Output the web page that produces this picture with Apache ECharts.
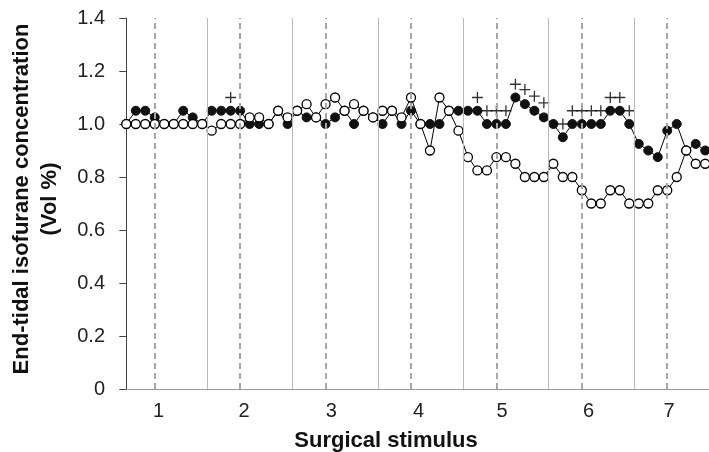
<!DOCTYPE html>
<html><head><meta charset="utf-8">
<script src="https://cdn.jsdelivr.net/npm/echarts@6/dist/echarts.min.js"></script>
<style>html,body{margin:0;padding:0;background:#fff}#c{width:709px;height:452px}</style>
</head><body><div id="c"></div>
<script>
// open circles series (one value per sample)
const openValues = [
  1.0, 1.0, 1.0, 1.0, 1.0, 1.0, 1.0, 1.0, 1.0, 0.975,
  1.0, 1.0, 1.0, 1.025, 1.025, 1.0, 1.05, 1.025, 1.05, 1.075,
  1.025, 1.075, 1.1, 1.05, 1.075, 1.05, 1.025, 1.05, 1.05, 1.025,
  1.1, 1.0, 0.9, 1.1, 1.05, 0.975, 0.875, 0.825, 0.825, 0.875,
  0.875, 0.85, 0.8, 0.8, 0.8, 0.85, 0.8, 0.8, 0.75, 0.7,
  0.7, 0.75, 0.75, 0.7, 0.7, 0.7, 0.75, 0.75, 0.8, 0.9,
  0.85, 0.85
];
// filled circles series
const filledValues = [
  1.0, 1.05, 1.05, 1.025, 1.0, 1.0, 1.05, 1.025, 1.0, 1.05,
  1.05, 1.05, 1.05, 1.0, 1.0, 1.0, 1.05, 1.0, 1.05, 1.025,
  1.025, 1.0, 1.025, 1.05, 1.0, 1.05, 1.025, 1.0, 1.05, 1.0,
  1.05, 1.0, 1.0, 1.0, 1.05, 1.05, 1.05, 1.05, 1.0, 1.0,
  1.0, 1.1, 1.075, 1.05, 1.025, 1.0, 0.95, 1.0, 1.0, 1.0,
  1.0, 1.05, 1.05, 1.0, 0.925, 0.9, 0.875, 0.975, 1.0, 0.9,
  0.925, 0.9
];
// "+" significance markers: [sample index, height]
const plusIdx = [11, 37, 38, 39, 40, 41, 42, 43, 44, 46, 47, 48, 49, 50, 51, 52, 53];
const plusVal = [1.1, 1.1, 1.05, 1.05, 1.05, 1.15, 1.13, 1.105, 1.08, 1.0, 1.05, 1.05, 1.05, 1.05, 1.1, 1.1, 1.05];
// separators between stimulus periods and stimulus onset lines (sample index)
const solidLines = [8.5, 17.5, 26.5, 35.5, 44.5, 53.5];
const dashedLines = [3, 12, 21, 30, 39, 48, 57];
// stimulus labels and their positions on the sample axis
const stimulusLabels = ['1', '2', '3', '4', '5', '6', '7'];
const stimulusPos = [3.4, 12.4, 21.6, 30.8, 39.6, 48.7, 57.2];

const FONT = "'Liberation Sans', Arial, Helvetica, sans-serif";
const chart = echarts.init(document.getElementById('c'), null, {renderer: 'canvas'});
const plusPath = 'path://M4.4,0h1.2v4.4h4.4v1.2h-4.4v4.4h-1.2v-4.4h-4.4v-1.2h4.4z';

const option = {
  animation: false,
  backgroundColor: '#fff',
  grid: {left: 122, right: 0, top: 18, bottom: 63},
  xAxis: {
    type: 'value', min: -0.45, max: 61.4,
    axisLine: {show: true, lineStyle: {color: '#999', width: 1}},
    axisTick: {show: false},
    splitLine: {show: false},
    axisLabel: {
      customValues: stimulusPos,
      formatter: function (v) {
        let best = 0, bd = 1e9;
        stimulusPos.forEach((p, k) => { const d = Math.abs(p - v); if (d < bd) { bd = d; best = k; } });
        return stimulusLabels[best];
      },
      fontSize: 20, color: '#222', margin: 12, fontFamily: FONT
    }
  },
  yAxis: {
    type: 'value', min: 0, max: 1.4, interval: 0.2,
    axisLine: {show: true, lineStyle: {color: '#444', width: 1}},
    axisTick: {show: true, length: 7, lineStyle: {color: '#444', width: 1}},
    splitLine: {show: false},
    axisLabel: {
      formatter: v => (v === 0 ? '0' : v.toFixed(1)),
      fontSize: 20, color: '#222', margin: 17, fontFamily: FONT
    }
  },
  graphic: [
    {type: 'text', x: 36, y: 199, rotation: Math.PI / 2, silent: true,
     style: {text: 'End-tidal isofurane concentration\n(Vol %)', font: 'bold 22px ' + FONT,
             fill: '#111', textAlign: 'center', textVerticalAlign: 'middle', align: 'center', verticalAlign: 'middle', lineHeight: 28}},
    {type: 'text', x: 386, y: 441, silent: true,
     style: {text: 'Surgical stimulus', font: 'bold 22px ' + FONT,
             fill: '#111', textAlign: 'center', textVerticalAlign: 'middle', align: 'center', verticalAlign: 'middle'}}
  ],
  series: [
    {
      type: 'line', name: 'filled', z: 2, silent: true,
      data: filledValues.map((v, i) => [i, v]),
      symbol: 'circle', symbolSize: 9, showAllSymbol: true,
      lineStyle: {color: '#000', width: 1},
      itemStyle: {color: '#111', borderColor: '#111', borderWidth: 1},
      markLine: {
        silent: true, symbol: ['none', 'none'], label: {show: false},
        lineStyle: {color: '#b8b8b8', width: 1, type: 'solid'},
        emphasis: {disabled: true},
        data: solidLines.map(v => ({xAxis: v}))
      }
    },
    {
      type: 'line', name: 'open', z: 3, silent: true,
      data: openValues.map((v, i) => [i, v]),
      symbol: 'circle', symbolSize: 9, showAllSymbol: true,
      lineStyle: {color: '#000', width: 1},
      itemStyle: {color: '#fff', borderColor: '#000', borderWidth: 1.3}
    },
    {
      type: 'scatter', name: 'plus', z: 4, silent: true,
      data: plusIdx.map((x, k) => [x, plusVal[k]]),
      symbol: plusPath, symbolSize: 11,
      itemStyle: {color: '#000'},
      markLine: {
        silent: true, symbol: ['none', 'none'], label: {show: false}, z: 10,
        lineStyle: {color: '#a6a6a6', width: 2, type: [6, 4]},
        emphasis: {disabled: true},
        data: dashedLines.map(v => ({xAxis: v}))
      }
    }
  ]
};
chart.setOption(option);
</script>
</body></html>
